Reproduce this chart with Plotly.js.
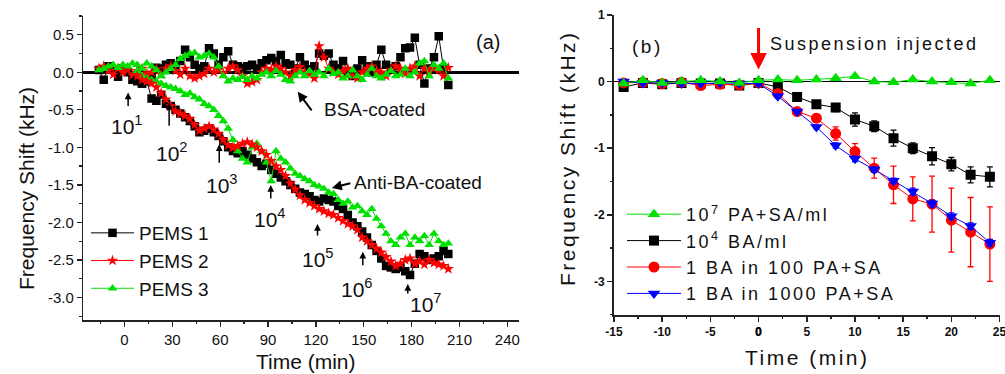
<!DOCTYPE html>
<html><head><meta charset="utf-8">
<script src="https://cdn.plot.ly/plotly-3.0.1.min.js"></script>
<style>body{margin:0;background:#fff}</style>
</head><body>
<div id="chart" style="width:1005px;height:374px"></div>
<script>
// ---------- Panel (a) data ----------
const tFlat = [-16,-13,-10,-7,-4,-1,2,5,8,11,14,17,20,23,26,29,32,35,38,41,44,47,50,53,56,59,62,65,68,71,74,77,80,83,86,89,92,95,98,101,104,107,110,113,116,119,122,125,128,131,134,137,140,143,146,149,152,155,158,161,164,167,170,173,176,179,182,185,188,191,194,197,200,203];
const pems1Bsa = [0.03,-0.1,0.08,0.04,-0.06,0.05,0.0,-0.1,-0.12,-0.15,-0.1,-0.05,0.06,0.05,0.1,0.12,0.08,0.15,0.3,0.2,0.1,0.05,0.08,0.32,0.25,0.1,0.2,0.28,0.1,0.08,0.06,0.08,0.1,0.05,0.12,0.16,0.19,0.15,0.23,0.12,0.1,0.05,0.2,0.1,0.04,0.08,0.25,0.22,0.25,0.1,0.05,0.15,0.0,-0.05,0.05,0.16,0.08,0.0,0.1,0.3,0.1,0.05,0.08,0.2,0.32,0.33,0.46,0.1,-0.15,0.05,0.2,0.48,0.05,-0.17];
const pems2Bsa = [0.05,0.08,0.02,-0.03,0.05,0.0,0.03,-0.04,0.02,0.05,-0.02,0.0,0.04,-0.03,0.05,0.08,0.02,-0.03,0.05,-0.05,-0.08,-0.05,-0.02,0.05,0.0,0.03,-0.02,0.05,0.08,0.03,-0.05,-0.15,-0.13,-0.1,0.0,0.05,0.03,0.08,0.05,0.0,-0.05,0.03,0.07,0.0,-0.02,-0.08,0.35,0.2,0.05,0.0,-0.03,0.02,0.05,-0.05,-0.08,0.0,0.05,0.08,0.02,0.0,-0.05,0.03,0.08,0.05,-0.02,0.05,0.08,-0.05,0.05,0.02,0.05,0.03,-0.05,0.06];
const pems3Bsa = [0.03,0.05,0.08,0.1,0.06,0.1,0.08,0.12,0.1,0.05,0.12,0.08,0.03,-0.05,0.0,0.05,0.1,0.18,0.22,0.25,0.26,0.2,0.22,0.25,0.2,0.08,-0.05,-0.12,-0.08,-0.1,-0.06,-0.1,-0.05,-0.08,-0.03,0.0,-0.05,0.02,-0.03,-0.1,-0.12,-0.05,0.0,-0.05,0.02,-0.03,0.0,-0.05,0.05,-0.02,0.0,-0.08,-0.05,0.03,-0.05,-0.1,-0.03,0.05,-0.05,-0.08,-0.03,0.02,-0.05,-0.03,0.05,-0.05,0.0,0.12,0.15,-0.05,0.1,0.05,0.12,-0.08];
const tAnti = [8,11,14,17,20,23,26,29,32,35,38,41,44,47,50,53,56,59,62,65,68,71,74,77,80,83,86,89,92,95,98,101,104,107,110,113,116,119,122,125,128,131,134,137,140,143,146,149,152,155,158,161,164,167,170,173,176,179,182,185,188,191,194,197,200,203];
const pems1Anti = [-0.1,-0.15,-0.12,-0.35,-0.38,-0.3,-0.42,-0.45,-0.5,-0.55,-0.6,-0.65,-0.72,-0.8,-0.78,-0.75,-0.8,-0.85,-0.92,-1.0,-1.05,-1.08,-1.05,-1.1,-1.15,-1.2,-1.25,-1.22,-1.3,-1.35,-1.4,-1.45,-1.5,-1.55,-1.6,-1.62,-1.65,-1.7,-1.72,-1.68,-1.7,-1.72,-1.78,-1.82,-1.9,-2.0,-2.05,-2.12,-2.2,-2.3,-2.38,-2.48,-2.58,-2.6,-2.62,-2.6,-2.65,-2.7,-2.55,-2.42,-2.45,-2.5,-2.48,-2.45,-2.38,-2.42];
const pems2Anti = [-0.05,-0.1,-0.12,-0.15,-0.2,-0.28,-0.36,-0.45,-0.52,-0.55,-0.58,-0.62,-0.7,-0.78,-0.75,-0.72,-0.76,-0.82,-0.9,-0.97,-1.0,-0.98,-0.95,-0.93,-0.96,-1.0,-1.05,-1.1,-1.18,-1.25,-1.3,-1.38,-1.48,-1.56,-1.64,-1.7,-1.74,-1.78,-1.82,-1.85,-1.88,-1.9,-1.94,-1.98,-2.02,-2.05,-2.1,-2.2,-2.25,-2.3,-2.35,-2.4,-2.46,-2.52,-2.58,-2.55,-2.5,-2.48,-2.55,-2.52,-2.56,-2.5,-2.54,-2.56,-2.58,-2.62];
const pems3Anti = [0.02,-0.05,-0.08,-0.1,-0.12,-0.15,-0.18,-0.2,-0.22,-0.25,-0.3,-0.28,-0.33,-0.36,-0.42,-0.45,-0.5,-0.58,-0.65,-0.75,-0.9,-1.05,-1.15,-1.2,-1.0,-0.95,-1.05,-1.2,-1.45,-1.05,-1.15,-1.2,-1.28,-1.35,-1.38,-1.42,-1.45,-1.5,-1.52,-1.55,-1.6,-1.62,-1.7,-1.75,-1.72,-1.8,-1.78,-1.85,-1.9,-1.82,-1.95,-2.05,-2.15,-2.25,-2.3,-2.2,-2.15,-2.3,-2.2,-2.25,-2.18,-2.3,-2.15,-2.25,-2.3,-2.28];
const namesA = ['PEMS 1','PEMS 2','PEMS 3'];
const xTicksA = [0,30,60,90,120,150,180,210,240];
const yTicksA = [0.5,0.0,-0.5,-1.0,-1.5,-2.0,-2.5,-3.0];
const yTickTextA = ['0.5','0.0','-0.5','-1.0','-1.5','-2.0','-2.5','-3.0'];

// ---------- Panel (b) data ----------
const tB = [-14,-12,-10,-8,-6,-4,-2,0,2,4,6,8,10,12,14,16,18,20,22,24];
const paSa = [-0.03,0.02,-0.02,0.0,0.02,0.0,-0.02,0.02,0.03,0.02,0.03,0.05,0.08,0.0,-0.01,0.03,0.0,-0.01,-0.03,0.02];
const ba4 = [-0.08,-0.02,-0.04,-0.02,-0.03,-0.03,-0.06,-0.02,-0.08,-0.23,-0.34,-0.39,-0.57,-0.67,-0.85,-1.0,-1.12,-1.24,-1.4,-1.43];
const ba4Err = [0.03,0.03,0.03,0.03,0.03,0.03,0.03,0.03,0.04,0.05,0.05,0.06,0.1,0.08,0.12,0.08,0.13,0.1,0.12,0.15];
const ba100 = [-0.02,-0.01,-0.03,-0.01,-0.06,-0.04,-0.05,-0.02,-0.18,-0.45,-0.55,-0.78,-1.05,-1.3,-1.55,-1.76,-1.84,-2.08,-2.26,-2.44];
const ba100Err = [0.02,0.02,0.02,0.02,0.03,0.02,0.02,0.02,0.04,0.05,0.06,0.1,0.12,0.15,0.28,0.33,0.42,0.48,0.52,0.56];
const ba1000 = [0.0,-0.02,-0.02,-0.03,-0.03,-0.02,-0.03,-0.03,-0.22,-0.45,-0.68,-0.96,-1.16,-1.32,-1.49,-1.65,-1.83,-2.02,-2.17,-2.42];
const ba1000Err = [0.02,0.02,0.02,0.02,0.02,0.02,0.02,0.02,0.03,0.03,0.03,0.04,0.04,0.04,0.04,0.05,0.05,0.05,0.05,0.05];
const namesB = ['10<sup>7</sup> PA+SA/ml','10<sup>4</sup> BA/ml','1 BA in 100 PA+SA','1 BA in 1000 PA+SA'];
const xTicksB = [-15,-10,-5,0,5,10,15,20,25];
const xTickTextB = ['-15','-10','-5','0','5','10','15','20','25'];
const yTicksB = [1,0,-1,-2,-3];
const yTickTextB = ['1','0','-1','-2','-3'];

const FONT = 'Liberation Sans, Arial, Helvetica, sans-serif';
const LS = s => '<span style="letter-spacing:2.5px">' + s + '</span>';
const B = s => '<b>' + s + '</b>';

const cols = ['#000000','#ff0000','#00e000'];
const symA = ['square','star','triangle-up'];
const flats = [pems1Bsa, pems2Bsa, pems3Bsa];
const antis = [pems1Anti, pems2Anti, pems3Anti];
const traces = [];
[0,1,2].forEach(i => traces.push({
  x: tFlat, y: flats[i], type:'scatter', mode:'lines+markers', xaxis:'x', yaxis:'y',
  line:{color:cols[i], width:1}, marker:{symbol:symA[i], size:8.5, color:cols[i]},
  showlegend:false, legendgroup:'a'+i, legend:'legend'
}));
[0,2,1].forEach(i => traces.push({
  x: tAnti, y: antis[i], type:'scatter', mode:'lines+markers', xaxis:'x', yaxis:'y',
  name: namesA[i], line:{color:cols[i], width:1}, marker:{symbol:symA[i], size:8.5, color:cols[i]},
  showlegend:true, legendgroup:'a'+i, legendrank:i+1, legend:'legend'
}));

traces.push({x:tB, y:ba4, type:'scatter', mode:'lines+markers', xaxis:'x3', yaxis:'y3',
  name: LS(namesB[1]), line:{color:'#000', width:1}, marker:{symbol:'square', size:10, color:'#000'},
  error_y:{type:'data', array:ba4Err, color:'#000', thickness:1.3, width:3},
  legend:'legend2', legendrank:2});
traces.push({x:tB, y:ba100, type:'scatter', mode:'lines+markers', xaxis:'x3', yaxis:'y3',
  name: LS(namesB[2]), line:{color:'#ff0000', width:1}, marker:{symbol:'circle', size:11, color:'#ff0000'},
  error_y:{type:'data', array:ba100Err, color:'#ff0000', thickness:1.3, width:3},
  legend:'legend2', legendrank:3});
traces.push({x:tB, y:ba1000, type:'scatter', mode:'lines+markers', xaxis:'x3', yaxis:'y3',
  name: LS(namesB[3]), line:{color:'#0000ff', width:1}, marker:{symbol:'triangle-down', size:11, color:'#0000ff'},
  error_y:{type:'data', array:ba1000Err, color:'#0000ff', thickness:1.3, width:3},
  legend:'legend2', legendrank:4});
traces.push({x:tB, y:paSa, type:'scatter', mode:'lines+markers', xaxis:'x3', yaxis:'y3',
  name: LS(namesB[0]), line:{color:'#00e000', width:1}, marker:{symbol:'triangle-up', size:11, color:'#00e000'},
  legend:'legend2', legendrank:1});

const AXC = '#222';
const domAx = [83.3/1005, 519/1005], domAy = [1-320/374, 1-16/374];
const domBx = [614/1005, 1000/1005], domBy = [1-314.7/374, 1-15/374];
const rAx = [-25.8, 247.3], rAy = [-3.3, 0.75];
const rBx = [-15, 25.05], rBy = [-3.5, 1];
const tickFA = {family:FONT, size:15, color:'#111'};
const tickFB = {family:FONT, size:12, color:'#111'};

const layout = {
  width:1005, height:374, margin:{l:0,r:0,t:0,b:0},
  paper_bgcolor:'#fff', plot_bgcolor:'rgba(0,0,0,0)',
  font:{family:FONT, color:'#111'},
  xaxis:{domain:domAx, anchor:'y', range:rAx, tickvals:xTicksA, ticks:'outside', ticklen:5, tickwidth:1.3, tickcolor:AXC,
    showline:true, linecolor:AXC, linewidth:1.5, showgrid:false, zeroline:false, tickfont:tickFA, ticklabeloverflow:'allow',
    minor:{dtick:15, tick0:15, ticks:'outside', ticklen:2.5, tickcolor:AXC, showgrid:false}},
  yaxis:{domain:domAy, anchor:'x', range:rAy, tickvals:yTicksA, ticktext:yTickTextA, ticks:'outside', ticklen:5, tickwidth:1.3, tickcolor:AXC,
    showline:true, linecolor:AXC, linewidth:1.5, showgrid:false, zeroline:true, zerolinecolor:'#000', zerolinewidth:2.5, tickfont:tickFA,
    ticklabeloverflow:'allow', minor:{dtick:0.25, tick0:0.25, ticks:'outside', ticklen:2.5, tickcolor:AXC, showgrid:false}},
  xaxis2:{overlaying:'x', side:'top', anchor:'y', range:rAx, tickvals:xTicksA, ticks:'inside', ticklen:5, tickwidth:1.3, tickcolor:AXC,
    showticklabels:false, showline:true, linecolor:AXC, linewidth:1.5, showgrid:false, zeroline:false,
    minor:{dtick:15, tick0:15, ticks:'inside', ticklen:2.5, tickcolor:AXC, showgrid:false}},
  yaxis2:{overlaying:'y', side:'right', anchor:'x', range:rAy, tickvals:yTicksA, ticks:'inside', ticklen:5, tickwidth:1.3, tickcolor:AXC,
    showticklabels:false, showline:true, linecolor:AXC, linewidth:1.5, showgrid:false, zeroline:false},
  xaxis3:{domain:domBx, anchor:'y3', range:rBx, tickvals:xTicksB, ticktext:xTickTextB.map(B), ticks:'outside', ticklen:5, tickwidth:1.5, tickcolor:AXC,
    showline:true, linecolor:AXC, linewidth:2, showgrid:false, zeroline:false, tickfont:tickFB, ticklabeloverflow:'allow',
    minor:{dtick:2.5, tick0:-15, ticks:'outside', ticklen:2.5, tickcolor:AXC, showgrid:false}},
  yaxis3:{domain:domBy, anchor:'x3', range:rBy, tickvals:yTicksB, ticktext:yTickTextB.map(B), ticks:'outside', ticklen:5, tickwidth:1.5, tickcolor:AXC,
    showline:true, linecolor:AXC, linewidth:2, showgrid:false, zeroline:true, zerolinecolor:'#000', zerolinewidth:1.5, tickfont:tickFB,
    ticklabeloverflow:'allow', minor:{dtick:0.5, tick0:0.5, ticks:'outside', ticklen:2.5, tickcolor:AXC, showgrid:false}},
  xaxis4:{overlaying:'x3', side:'top', anchor:'y3', range:rBx, tickvals:xTicksB, ticks:'inside', ticklen:5, tickwidth:1.5, tickcolor:AXC,
    showticklabels:false, showline:true, linecolor:AXC, linewidth:2, showgrid:false, zeroline:false},
  yaxis4:{overlaying:'y3', side:'right', anchor:'x3', range:rBy, tickvals:yTicksB, ticks:'inside', ticklen:5, tickwidth:1.5, tickcolor:AXC,
    showticklabels:false, showline:true, linecolor:AXC, linewidth:2, showgrid:false, zeroline:false},
  legend:{x:86/1005, y:1-214/374, xanchor:'left', yanchor:'top', bgcolor:'rgba(0,0,0,0)', borderwidth:0,
    font:{family:FONT, size:19, color:'#111'}, itemwidth:43, traceorder:'normal', tracegroupgap:0},
  legend2:{x:622/1005, y:1-196/374, xanchor:'left', yanchor:'top', bgcolor:'rgba(0,0,0,0)', borderwidth:0,
    font:{family:FONT, size:18, color:'#111'}, itemwidth:54, traceorder:'normal'},
  showlegend:true,
  annotations:[]
};

const ann = layout.annotations;
const doseArrows = [[2.3,-0.27,15],[28,-0.40,25],[59.4,-0.96,20],[91.7,-1.50,15],[121,-2.02,13],[149.4,-2.39,15],[177.6,-2.82,11]];
const doseLabels = [[1.5,-0.70,'1'],[29.5,-1.06,'2'],[61,-1.49,'3'],[91.5,-1.94,'4'],[121.5,-2.47,'5'],[146,-2.87,'6'],[189,-3.08,'7']];
doseArrows.forEach(d => ann.push({xref:'x', yref:'y', x:d[0], y:d[1], ax:0, ay:d[2], text:'', showarrow:true,
  arrowhead:2, arrowsize:0.9, arrowwidth:1.5, arrowcolor:'#000', standoff:0}));
doseLabels.forEach(d => ann.push({xref:'x', yref:'y', x:d[0], y:d[1], xanchor:'center', yanchor:'middle', text:'10<sup>'+d[2]+'</sup>', showarrow:false,
  font:{family:FONT, size:21, color:'#111'}}));
ann.push({xref:'x', yref:'y', x:108.6, y:-0.26, ax:15, ay:20, text:'', showarrow:true, arrowhead:2, arrowsize:1, arrowwidth:2, arrowcolor:'#000', standoff:0});
ann.push({xref:'x', yref:'y', x:157, y:-0.5, xanchor:'center', yanchor:'middle', text:'BSA-coated', showarrow:false, font:{family:FONT, size:19, color:'#111'}});
ann.push({xref:'x', yref:'y', x:130, y:-1.54, ax:20, ay:-5, text:'', showarrow:true, arrowhead:2, arrowsize:1, arrowwidth:2, arrowcolor:'#000', standoff:0});
ann.push({xref:'x', yref:'y', x:142.6, y:-1.47, xanchor:'left', yanchor:'middle', text:'Anti-BA-coated', showarrow:false, font:{family:FONT, size:19, color:'#111'}});
ann.push({xref:'x', yref:'y', x:227.7, y:0.40, xanchor:'center', yanchor:'middle', text:'(a)', showarrow:false, font:{family:FONT, size:20, color:'#111'}});
ann.push({xref:'x3', yref:'y3', x:-11.5, y:0.52, xanchor:'center', yanchor:'middle', text:LS('(b)'), showarrow:false, font:{family:FONT, size:19, color:'#111'}});
ann.push({xref:'x3', yref:'y3', x:0.94, y:0.56, xanchor:'left', yanchor:'middle', text:LS('Suspension injected'), showarrow:false, font:{family:FONT, size:18, color:'#111'}});
ann.push({xref:'x3', yref:'y3', x:0, y:0.18, ax:0, ay:-43, text:'', showarrow:true, arrowhead:2, arrowsize:1.1, arrowwidth:3, arrowcolor:'#ff0000', standoff:0});
ann.push({xref:'paper', yref:'paper', x:26/1005, y:1-189/374, xanchor:'center', yanchor:'middle', textangle:-90, text:'Frequency Shift (kHz)', showarrow:false, font:{family:FONT, size:21, color:'#111'}});
ann.push({xref:'paper', yref:'paper', x:306/1005, y:1-361/374, xanchor:'center', yanchor:'middle', text:'Time (min)', showarrow:false, font:{family:FONT, size:21, color:'#111'}});
ann.push({xref:'paper', yref:'paper', x:567/1005, y:1-158/374, xanchor:'center', yanchor:'middle', textangle:-90, text:LS('Frequency Shift (kHz)'), showarrow:false, font:{family:FONT, size:21, color:'#111'}});
ann.push({xref:'paper', yref:'paper', x:807/1005, y:1-357/374, xanchor:'center', yanchor:'middle', text:LS('Time (min)'), showarrow:false, font:{family:FONT, size:21, color:'#111'}});
// the "0" tick label of panel (b), at x = 0 on the x3 scale, drawn last so nothing sits over it
ann.push({xref:'x3', yref:'paper', x:xTicksB[3], y:1-323/374, xanchor:'center', yanchor:'top', text:B(xTickTextB[3]), showarrow:false,
  font:{family:FONT, size:12, color:'#000'}, bgcolor:'rgba(255,255,255,0)', opacity:1});

Plotly.newPlot('chart', traces, layout, {staticPlot:true, displayModeBar:false});
</script>
</body></html>
